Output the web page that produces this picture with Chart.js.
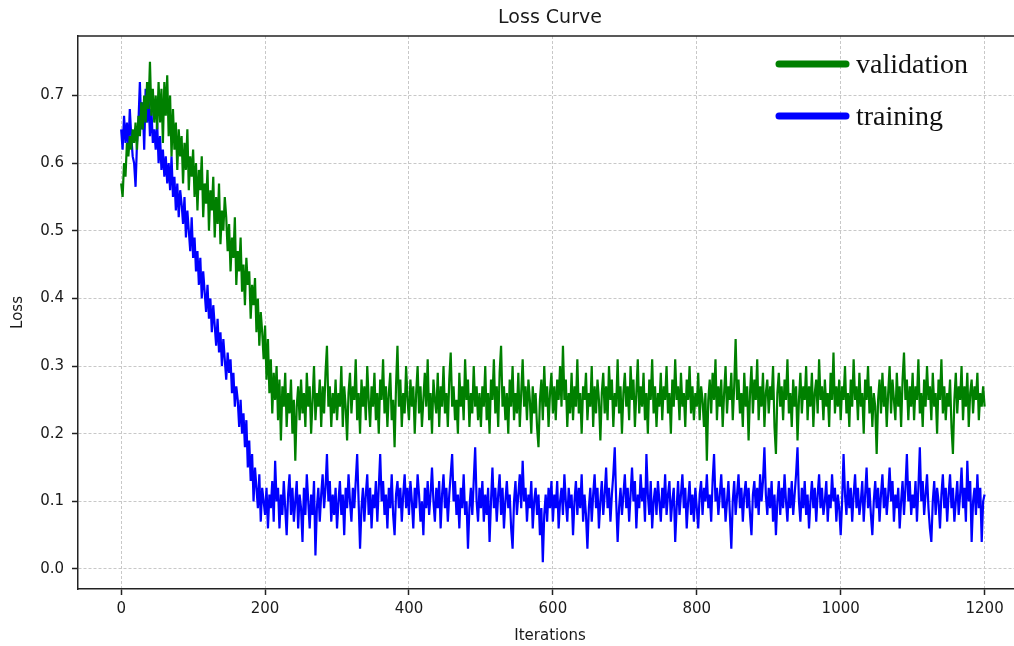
<!DOCTYPE html>
<html>
<head>
<meta charset="utf-8">
<script src="https://cdn.jsdelivr.net/npm/chart.js@4.4.1/dist/chart.umd.min.js"></script>
<style>
html,body{margin:0;padding:0;overflow:hidden;background:#fff}
#wrap{width:1024px;height:646px}
</style>
</head>
<body>
<div id="wrap"><canvas id="c" width="1024" height="646"></canvas></div>
<script>
// iterations between consecutive recorded values
const STEP = 2;

const validation = [
  0.57,0.55,0.60,0.58,0.63,0.61,0.64,0.62,0.65,0.63,0.66,0.62,0.67,0.64,0.69,0.65,0.70,0.66,0.72,0.68,0.75,0.67,0.71,0.66,0.70,
  0.65,0.72,0.66,0.71,0.63,0.72,0.67,0.73,0.64,0.70,0.61,0.68,0.62,0.66,0.59,0.65,0.61,0.64,0.57,0.63,0.59,0.65,0.56,0.61,0.58,
  0.62,0.55,0.60,0.53,0.59,0.56,0.61,0.52,0.57,0.54,0.59,0.50,0.56,0.53,0.58,0.49,0.55,0.51,0.57,0.48,0.53,0.50,0.55,0.52,0.47,
  0.51,0.44,0.49,0.46,0.52,0.42,0.47,0.44,0.49,0.41,0.45,0.39,0.46,0.42,0.44,0.37,0.42,0.39,0.43,0.35,0.40,0.33,0.38,0.35,0.31,
  0.36,0.28,0.34,0.26,0.31,0.23,0.29,0.25,0.30,0.22,0.28,0.19,0.27,0.24,0.29,0.21,0.26,0.23,0.28,0.20,0.25,0.16,0.24,0.27,0.22,
  0.28,0.23,0.26,0.21,0.29,0.24,0.27,0.20,0.25,0.30,0.22,0.26,0.24,0.28,0.21,0.27,0.23,0.29,0.33,0.24,0.27,0.21,0.26,0.23,0.28,
  0.22,0.26,0.24,0.30,0.21,0.27,0.24,0.19,0.26,0.29,0.23,0.27,0.25,0.31,0.22,0.26,0.20,0.28,0.24,0.27,0.22,0.30,0.25,0.21,0.27,
  0.24,0.29,0.22,0.26,0.20,0.28,0.25,0.31,0.23,0.27,0.21,0.26,0.29,0.22,0.25,0.18,0.27,0.33,0.24,0.28,0.21,0.26,0.23,0.30,0.25,
  0.22,0.28,0.24,0.27,0.20,0.26,0.30,0.23,0.27,0.21,0.25,0.29,0.24,0.31,0.22,0.26,0.20,0.28,0.25,0.23,0.29,0.21,0.27,0.24,0.30,
  0.23,0.26,0.21,0.28,0.32,0.24,0.27,0.22,0.25,0.20,0.29,0.24,0.27,0.22,0.31,0.25,0.28,0.21,0.26,0.23,0.30,0.24,0.27,0.22,0.26,
  0.21,0.27,0.24,0.30,0.22,0.26,0.20,0.28,0.25,0.31,0.23,0.27,0.21,0.29,0.33,0.24,0.27,0.22,0.26,0.20,0.28,0.24,0.30,0.22,0.26,
  0.23,0.29,0.21,0.26,0.31,0.24,0.27,0.22,0.28,0.25,0.20,0.27,0.23,0.26,0.21,0.18,0.25,0.28,0.22,0.30,0.24,0.27,0.21,0.26,0.29,
  0.23,0.27,0.22,0.28,0.25,0.30,0.24,0.33,0.25,0.28,0.21,0.26,0.23,0.29,0.22,0.27,0.24,0.31,0.23,0.26,0.20,0.27,0.25,0.29,0.22,
  0.26,0.24,0.30,0.21,0.27,0.23,0.28,0.25,0.19,0.26,0.29,0.23,0.27,0.22,0.30,0.25,0.28,0.21,0.26,0.24,0.31,0.23,0.27,0.20,0.26,
  0.29,0.24,0.27,0.22,0.30,0.25,0.28,0.21,0.26,0.31,0.23,0.27,0.24,0.29,0.22,0.26,0.20,0.28,0.25,0.31,0.23,0.27,0.21,0.26,0.24,
  0.29,0.22,0.27,0.25,0.30,0.23,0.26,0.20,0.28,0.24,0.31,0.25,0.27,0.22,0.29,0.24,0.26,0.21,0.28,0.25,0.30,0.23,0.27,0.22,0.26,
  0.24,0.29,0.22,0.27,0.25,0.21,0.26,0.16,0.25,0.28,0.23,0.29,0.25,0.31,0.22,0.27,0.24,0.28,0.21,0.26,0.30,0.23,0.27,0.25,0.29,
  0.22,0.27,0.34,0.25,0.28,0.23,0.26,0.21,0.29,0.24,0.27,0.19,0.26,0.30,0.23,0.28,0.25,0.31,0.22,0.27,0.24,0.29,0.21,0.26,0.28,
  0.23,0.27,0.25,0.30,0.21,0.17,0.26,0.29,0.24,0.27,0.22,0.28,0.25,0.31,0.23,0.26,0.21,0.28,0.24,0.27,0.19,0.25,0.29,0.23,0.27,
  0.25,0.30,0.22,0.27,0.24,0.29,0.21,0.26,0.28,0.23,0.31,0.25,0.27,0.22,0.28,0.24,0.26,0.21,0.29,0.25,0.32,0.23,0.27,0.24,0.28,
  0.22,0.27,0.25,0.30,0.23,0.26,0.21,0.28,0.24,0.31,0.25,0.27,0.22,0.29,0.24,0.26,0.20,0.28,0.25,0.30,0.23,0.27,0.21,0.26,0.24,
  0.17,0.25,0.28,0.23,0.29,0.24,0.27,0.21,0.26,0.30,0.23,0.28,0.25,0.22,0.29,0.24,0.27,0.21,0.28,0.32,0.25,0.28,0.22,0.27,0.24,
  0.29,0.22,0.27,0.25,0.31,0.23,0.26,0.21,0.28,0.24,0.30,0.25,0.27,0.22,0.29,0.24,0.26,0.20,0.28,0.25,0.31,0.23,0.27,0.22,0.26,
  0.24,0.28,0.21,0.17,0.25,0.29,0.23,0.27,0.25,0.30,0.22,0.27,0.24,0.29,0.21,0.26,0.28,0.23,0.27,0.25,0.29,0.22,0.26,0.24,0.27,
  0.24
];

const training = [
  0.65,0.62,0.67,0.63,0.66,0.62,0.68,0.64,0.61,0.60,0.565,0.63,0.66,0.72,0.65,0.69,0.62,0.71,0.66,0.70,0.64,0.68,0.63,0.65,0.62,
  0.66,0.60,0.64,0.59,0.62,0.58,0.61,0.57,0.60,0.56,0.61,0.55,0.58,0.53,0.57,0.52,0.56,0.54,0.51,0.55,0.49,0.53,0.50,0.47,0.52,
  0.46,0.49,0.44,0.47,0.42,0.46,0.40,0.44,0.41,0.38,0.42,0.37,0.40,0.35,0.39,0.36,0.33,0.37,0.32,0.35,0.30,0.34,0.31,0.28,0.32,
  0.29,0.31,0.26,0.29,0.24,0.27,0.25,0.21,0.25,0.20,0.23,0.18,0.22,0.15,0.19,0.13,0.17,0.10,0.15,0.12,0.09,0.14,0.07,0.12,0.10,
  0.08,0.12,0.06,0.11,0.09,0.13,0.07,0.16,0.10,0.12,0.06,0.11,0.08,0.13,0.09,0.05,0.11,0.14,0.08,0.12,0.07,0.10,0.13,0.06,0.11,
  0.09,0.04,0.12,0.08,0.14,0.10,0.06,0.11,0.08,0.13,0.02,0.09,0.12,0.07,0.11,0.14,0.09,0.12,0.17,0.10,0.13,0.07,0.11,0.08,0.12,
  0.06,0.10,0.13,0.08,0.11,0.05,0.12,0.09,0.14,0.10,0.07,0.12,0.09,0.13,0.17,0.10,0.03,0.09,0.12,0.07,0.11,0.14,0.08,0.12,0.06,
  0.11,0.09,0.13,0.07,0.12,0.17,0.10,0.13,0.08,0.11,0.06,0.12,0.09,0.14,0.08,0.05,0.11,0.13,0.09,0.12,0.07,0.11,0.14,0.09,0.12,
  0.08,0.13,0.10,0.06,0.12,0.09,0.14,0.11,0.07,0.10,0.05,0.12,0.09,0.13,0.08,0.11,0.15,0.10,0.07,0.12,0.09,0.13,0.06,0.11,0.14,
  0.09,0.12,0.07,0.11,0.14,0.17,0.10,0.13,0.08,0.11,0.06,0.12,0.09,0.14,0.08,0.10,0.03,0.09,0.12,0.08,0.13,0.18,0.10,0.07,0.12,
  0.09,0.13,0.07,0.11,0.08,0.12,0.04,0.10,0.15,0.09,0.12,0.07,0.11,0.14,0.08,0.12,0.06,0.10,0.13,0.09,0.11,0.06,0.03,0.10,0.13,
  0.08,0.11,0.14,0.09,0.16,0.10,0.12,0.07,0.11,0.09,0.13,0.06,0.10,0.12,0.08,0.11,0.05,0.09,0.01,0.08,0.11,0.07,0.12,0.09,0.13,
  0.07,0.11,0.09,0.13,0.06,0.10,0.12,0.08,0.14,0.10,0.07,0.12,0.09,0.11,0.05,0.10,0.13,0.08,0.12,0.09,0.14,0.07,0.11,0.08,0.03,
  0.09,0.12,0.07,0.11,0.14,0.09,0.12,0.06,0.10,0.13,0.08,0.11,0.15,0.09,0.12,0.07,0.11,0.14,0.18,0.10,0.04,0.09,0.12,0.08,0.11,
  0.14,0.09,0.12,0.07,0.11,0.15,0.10,0.13,0.06,0.11,0.09,0.14,0.10,0.12,0.07,0.17,0.11,0.08,0.13,0.06,0.10,0.12,0.08,0.13,0.10,
  0.07,0.12,0.09,0.14,0.08,0.11,0.13,0.07,0.10,0.12,0.04,0.09,0.13,0.08,0.11,0.14,0.09,0.12,0.06,0.10,0.13,0.08,0.11,0.07,0.12,
  0.09,0.06,0.11,0.13,0.08,0.12,0.10,0.14,0.09,0.11,0.07,0.13,0.17,0.10,0.12,0.08,0.11,0.14,0.09,0.12,0.07,0.10,0.13,0.08,0.03,
  0.10,0.13,0.08,0.11,0.14,0.09,0.12,0.07,0.11,0.13,0.09,0.12,0.08,0.05,0.11,0.13,0.09,0.12,0.08,0.14,0.10,0.13,0.18,0.11,0.08,
  0.12,0.09,0.13,0.07,0.11,0.05,0.10,0.13,0.08,0.12,0.09,0.14,0.10,0.07,0.12,0.09,0.13,0.08,0.11,0.14,0.18,0.10,0.07,0.12,0.09,
  0.13,0.08,0.11,0.06,0.10,0.13,0.09,0.12,0.07,0.11,0.14,0.09,0.12,0.08,0.10,0.13,0.07,0.11,0.09,0.14,0.10,0.12,0.07,0.11,0.09,
  0.05,0.10,0.17,0.11,0.08,0.13,0.09,0.12,0.07,0.11,0.14,0.09,0.12,0.08,0.10,0.13,0.07,0.11,0.15,0.09,0.12,0.08,0.05,0.10,0.13,
  0.09,0.12,0.07,0.11,0.14,0.09,0.12,0.08,0.11,0.15,0.10,0.13,0.07,0.11,0.09,0.12,0.06,0.10,0.13,0.08,0.12,0.17,0.10,0.13,0.08,
  0.11,0.09,0.13,0.07,0.12,0.18,0.10,0.13,0.08,0.11,0.14,0.09,0.06,0.04,0.10,0.13,0.08,0.12,0.10,0.06,0.11,0.14,0.09,0.12,0.07,
  0.11,0.14,0.09,0.12,0.07,0.10,0.13,0.08,0.11,0.15,0.09,0.12,0.07,0.16,0.10,0.13,0.04,0.10,0.12,0.08,0.14,0.09,0.12,0.04,0.10,
  0.11
];

const xTicks = [0, 200, 400, 600, 800, 1000, 1200];
const yTicks = [0.0, 0.1, 0.2, 0.3, 0.4, 0.5, 0.6, 0.7];
const seriesLabels = ['validation', 'training'];

const toPoints = arr => arr.map((v, i) => ({ x: i * STEP, y: v }));

const TEXT = '#1a1a1a';
const SANS = '"DejaVu Sans", sans-serif';

const frameAndLegend = {
  id: 'frameAndLegend',
  afterDraw(chart) {
    const { ctx, chartArea } = chart;
    ctx.save();
    // top spine
    ctx.strokeStyle = '#222';
    ctx.lineWidth = 1.5;
    ctx.beginPath();
    ctx.moveTo(chartArea.left, chartArea.top);
    ctx.lineTo(chartArea.right, chartArea.top);
    ctx.stroke();
    // legend
    const items = chart.data.datasets.map(d => ({ label: d.label, color: d.borderColor }));
    const rows = [64, 116];
    ctx.lineCap = 'round';
    ctx.lineWidth = 7;
    ctx.font = '28px "Liberation Serif", "Times New Roman", serif';
    ctx.fillStyle = '#111';
    ctx.textBaseline = 'alphabetic';
    items.forEach((it, i) => {
      const y = rows[i];
      ctx.strokeStyle = it.color;
      ctx.beginPath();
      ctx.moveTo(779, y);
      ctx.lineTo(846, y);
      ctx.stroke();
      ctx.fillText(it.label, 856, y + 9);
    });
    ctx.restore();
  }
};

new Chart(document.getElementById('c'), {
  type: 'line',
  data: {
    datasets: [
      { label: seriesLabels[0], data: toPoints(validation), borderColor: '#008000', backgroundColor: '#008000', borderWidth: 2.2, pointRadius: 0, tension: 0, order: 0 },
      { label: seriesLabels[1], data: toPoints(training), borderColor: '#0000ff', backgroundColor: '#0000ff', borderWidth: 2.2, pointRadius: 0, tension: 0, order: 1 }
    ]
  },
  options: {
    responsive: false,
    animation: false,
    layout: { padding: { left: 0, right: 2, top: 0, bottom: 0 } },
    plugins: {
      legend: { display: false },
      tooltip: { enabled: false },
      title: {
        display: true,
        text: 'Loss Curve',
        fullSize: false,
        color: TEXT,
        font: { family: SANS, size: 19, weight: 'normal' },
        padding: { top: 7, bottom: 6.2 }
      }
    },
    scales: {
      x: {
        type: 'linear',
        min: -60,
        max: 1252,
        afterBuildTicks: s => { s.ticks = xTicks.map(v => ({ value: v })); },
        afterFit: s => { s.height = 57; },
        ticks: { autoSkip: false, maxRotation: 0, color: TEXT, font: { family: SANS, size: 15 }, padding: 5, callback: v => String(v) },
        grid: { color: '#c8c8c8', lineWidth: 1, tickLength: 6, tickColor: '#222', tickWidth: 1.5, tickBorderDash: [] },
        border: { display: true, color: '#222', width: 1.5, dash: [3, 2] },
        title: { display: true, text: 'Iterations', color: TEXT, font: { family: SANS, size: 15 }, padding: { top: 0, bottom: 1 } }
      },
      y: {
        type: 'linear',
        min: -0.0296,
        max: 0.788,
        afterBuildTicks: s => { s.ticks = yTicks.map(v => ({ value: v })); },
        afterFit: s => { s.width = 78; },
        ticks: { autoSkip: false, color: TEXT, font: { family: SANS, size: 15 }, padding: 8, callback: v => v.toFixed(1) },
        grid: { color: '#c8c8c8', lineWidth: 1, tickLength: 6, tickColor: '#222', tickWidth: 1.5, tickBorderDash: [] },
        border: { display: true, color: '#222', width: 1.5, dash: [3, 2] },
        title: { display: true, text: 'Loss', color: TEXT, font: { family: SANS, size: 15 }, padding: { top: 9, bottom: 0 } }
      }
    }
  },
  plugins: [frameAndLegend]
});
</script>
</body>
</html>
